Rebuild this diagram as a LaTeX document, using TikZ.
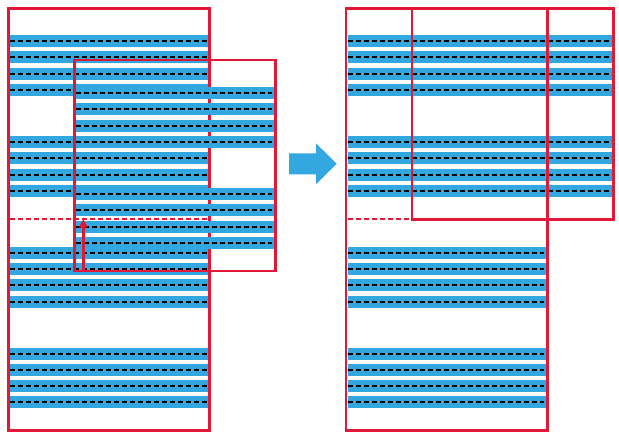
\documentclass[tikz,border=0pt]{standalone}
\usetikzlibrary{arrows.meta}
\definecolor{bandblue}{HTML}{33A7DF}
\definecolor{framered}{HTML}{E11838}
\newcommand\stripeband[3]{%
  \fill[band] (#1,#3-6) rectangle (#2,#3+6);
  \draw[sep] (#1+0.3,#3) -- (#2-1.5,#3);}
\begin{document}
\begin{tikzpicture}[x=1pt,y=-1pt,
  band/.style={fill=bandblue},
  sep/.style={draw=black,line width=2pt,dash pattern=on 5pt off 3pt},
  frame/.style={draw=framered,line width=2.6pt,line join=miter},
  halfline/.style={draw=framered,line width=1.6pt,dash pattern=on 5pt off 3pt},
  blockarrow/.style={fill=bandblue}]
\useasboundingbox (0,0) rectangle (619,440);
% ---------- left: original ----------
\foreach \yy in {41,57,74,90,142,158,175,191,253,269,285,302,354,370,386,402}
  {\stripeband{9.7}{208}{\yy}}
\draw[frame] (8.3,8.3) rectangle (209.3,430.3);
% ---------- left: shifted copy ----------
\foreach \yy in {93,109,126,142,194,210,227,243}
  {\stripeband{75.7}{273.8}{\yy}}
\draw[frame] (74.3,60) rectangle (275.3,271);
\coordinate (hlA) at (9.7,219);
\coordinate (hlB) at (208,219);
\draw[halfline] (hlA) -- (hlB);
\coordinate (arrBot) at (83.3,271);
\coordinate (arrTop) at (83.3,219.3);
\draw[draw=framered,line width=2.7pt,-{Triangle[length=8pt,width=8.5pt]}] (arrBot) -- (arrTop);
% ---------- middle arrow ----------
\fill[blockarrow] (289,153.3) -- (316,153.3) -- (316,143.3) -- (336.7,163.8)
  -- (316,184.3) -- (316,174.3) -- (289,174.3) -- cycle;
% ---------- right ----------
\foreach \yy in {41,57,74,90,142,158,175,191}
  {\stripeband{347.5}{612}{\yy}}
\foreach \yy in {253,269,285,302,354,370,386,402}
  {\stripeband{347.5}{545.8}{\yy}}
\draw[frame] (346,8.3) rectangle (547.3,430.3);
\draw[frame] (412,8.3) rectangle (613.3,219.3);
\coordinate (hrA) at (347.5,219);
\coordinate (hrB) at (411,219);
\draw[halfline] (hrA) -- (hrB);
\end{tikzpicture}
\end{document}
